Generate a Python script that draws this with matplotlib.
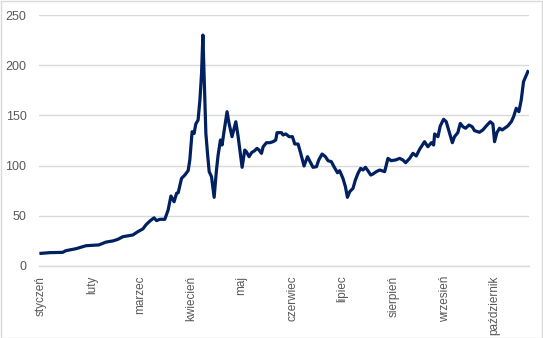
import matplotlib
matplotlib.use("Agg")
import matplotlib.pyplot as plt
from matplotlib.patches import Rectangle

# day offsets from 1 January (leap year) and the index values
days = [0, 5.4, 13.1, 15.1, 21.1, 27.2, 30.2, 35, 39.2, 43.5, 46.5, 49.5, 55.5, 58.5,
        61.6, 63.4, 65.8, 68.3, 69.8, 71.8, 74.8, 76.8, 78.5, 80.4, 81.9, 82.9, 84.9,
        86.9, 88.9, 89.9, 91.3, 92.5, 93.5, 94.9, 96, 97, 97.8, 98.6, 99.6, 100.6,
        101.6, 103, 104.6, 106, 107, 108.4, 109.4, 110.4, 112.4, 113.6, 115.4, 117.7,
        119.1, 121.5, 123.1, 124.1, 125.7, 127.2, 129.1, 130.5, 131.7, 133.2, 134.2,
        136.2, 138.2, 140.2, 141.8, 142.6, 145.3, 146.2, 147.9, 149.9, 151.9, 153.3,
        155.3, 156.9, 158.9, 161, 162.9, 164.3, 166.4, 167.8, 169.8, 171.8, 173.4,
        175.4, 177, 179.1, 180.4, 182.4, 183.9, 185.1, 186.5, 188.5, 189.9, 191.5,
        193.1, 194.5, 196, 197.5, 199.2, 200.5, 202.6, 204.6, 207.6, 209.6, 211.6,
        214.2, 216.7, 218.6, 220.3, 222.7, 224.7, 226.7, 228.7, 231.7, 233.7, 235.8,
        237.2, 237.8, 239.8, 241.2, 243.2, 244.8, 246.8, 248.5, 249.8, 251.8, 253.3,
        254.9, 256.5, 258.5, 260.5, 261.9, 264.9, 266.9, 269, 271.4, 273, 274, 275.4,
        277, 278.6, 280, 282, 284.1, 285.5, 287.1, 288.7, 290.1, 291.5, 294.1]
values = [12.6, 13.3, 13.6, 15.3, 17.2, 20.2, 20.5, 21, 23.8, 25, 26.6, 29.2, 30.9, 34.2,
          37, 41, 44.8, 48, 45.2, 46.5, 46.5, 55.8, 69.7, 64, 72.4, 73, 87.3,
          90.6, 95, 105.6, 133.8, 132, 141.4, 145.4, 165.3, 192, 230, 185, 132, 112,
          94, 89, 68.4, 95.6, 110.5, 125.5, 120.5, 132, 153.7, 142, 128.8, 143.7,
          128.8, 98.3, 115.5, 113.8, 108.9, 112.9, 114.9, 117.2, 115.5, 112.2, 118.8,
          122.8, 122.8, 123.8, 125.5, 132.8, 132.8, 130.5, 131.5, 128.8, 128.8, 121.5,
          121.5, 112.2, 99.6, 108.9, 102.9, 98.3, 98.9, 105.6, 111.5, 108.9, 104.9,
          103.9, 98.9, 92.9, 94.9, 87.3, 79, 68.4, 74, 77.4, 85.6, 92.3,
          97.3, 95.6, 98.3, 94.9, 90.6, 91.6, 94, 95.6, 94, 107.2, 104.9,
          105.6, 107.2, 105.6, 102.9, 107.2, 112.2, 109.6, 116.2, 123.8, 118.8, 122.8,
          120.5, 131.5, 128.8, 139.5, 146.1, 143.7, 132.2, 122.8, 128.8, 132.8, 142,
          138.7, 137.2, 140.4, 138.7, 134.8, 133.2, 135.5, 139.5, 143.7, 141.4, 123.8, 132.8,
          137.2, 135.5, 137.2, 139.5, 143.7, 148.7, 157.1, 153.7, 165.3, 183.6, 193.6]

month_days = [0, 31, 60, 91, 121, 152, 182, 213, 244, 274]
month_labels = ["styczeń", "luty", "marzec", "kwiecień", "maj", "czerwiec",
                "lipiec", "sierpień", "wrzesień", "październik"]
y_ticks = [0, 50, 100, 150, 200, 250]

fig = plt.figure(figsize=(5.43, 3.38), dpi=100)
fig.patch.set_facecolor("white")
ax = fig.add_axes([39 / 543, 1 - 266 / 338, (529 - 39) / 543, (266 - 15) / 338])

ax.plot(days, values, color="#002060", lw=2.3, solid_joinstyle="round", zorder=3)

ax.set_xlim(-1.2, 294.8)
ax.set_ylim(0, 250)
ax.set_yticks(y_ticks)
ax.set_xticks(month_days)
ax.set_xticklabels(month_labels, rotation=90, fontsize=8.5, color="#595959",
                   family="Liberation Sans")
for t in ax.get_yticklabels():
    t.set_fontsize(9)
    t.set_color("#595959")
    t.set_family("Liberation Sans")
ax.tick_params(axis="both", length=0)
ax.tick_params(axis="y", pad=9)
ax.tick_params(axis="x", pad=7)
ax.grid(axis="y", color="#D9D9D9", lw=1)
ax.set_axisbelow(True)
for s in ["top", "right", "left"]:
    ax.spines[s].set_visible(False)
ax.spines["bottom"].set_color("#D9D9D9")
ax.spines["bottom"].set_linewidth(1)

fig.add_artist(Rectangle((0.5 / 543, 0.5 / 338), 1 - 1.5 / 543, 1 - 1.5 / 338,
                         transform=fig.transFigure, fill=False,
                         edgecolor="#D9D9D9", lw=1))

fig.savefig("out.png", dpi=100)
